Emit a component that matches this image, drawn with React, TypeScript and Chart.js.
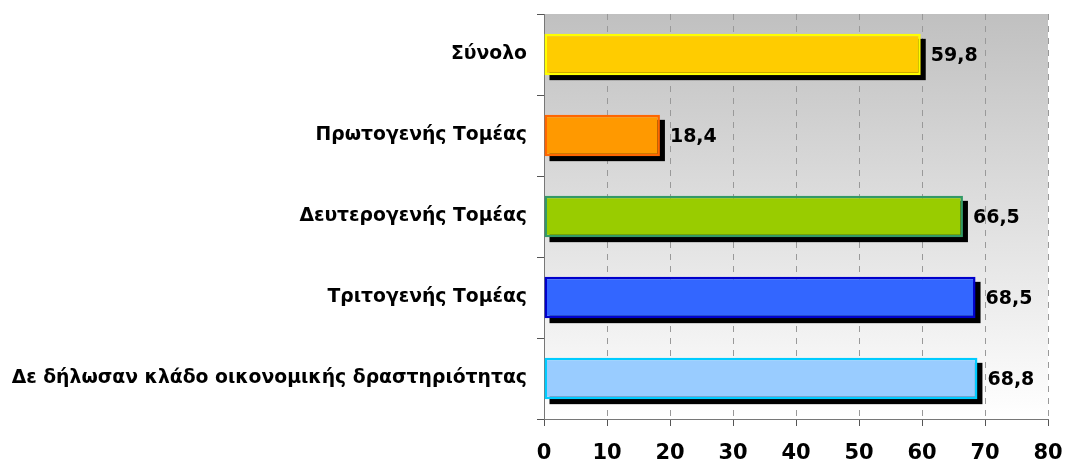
import React, { useEffect, useRef } from "react";
import { Chart, registerables } from "chart.js";

Chart.register(...registerables);

const categories = [
  "Σύνολο",
  "Πρωτογενής Τομέας",
  "Δευτερογενής Τομέας",
  "Τριτογενής Τομέας",
  "Δε δήλωσαν κλάδο οικονομικής δραστηριότητας",
];
const values = [59.8, 18.4, 66.5, 68.5, 68.8];
const valueLabels = ["59,8", "18,4", "66,5", "68,5", "68,8"];
const fillColors = ["#FFCC00", "#FF9900", "#99CC00", "#3366FF", "#99CCFF"];
const borderColors = ["#FFFF00", "#FF6600", "#339966", "#0000CC", "#00CCFF"];
const xMin = 0;
const xMax = 80;
const xStep = 10;

const FONT = "'DejaVu Sans', Verdana, sans-serif";

const bgPlugin = {
  id: "bgGradient",
  beforeDraw(chart: any) {
    const { ctx, chartArea } = chart;
    if (!chartArea) return;
    const g = ctx.createLinearGradient(0, chartArea.top, 0, chartArea.bottom);
    g.addColorStop(0, "#c0c0c0");
    g.addColorStop(1, "#ffffff");
    ctx.save();
    ctx.fillStyle = g;
    ctx.fillRect(chartArea.left, chartArea.top, chartArea.right - chartArea.left, chartArea.bottom - chartArea.top);
    ctx.restore();
  },
};

const shadowPlugin = {
  id: "barShadow",
  beforeDatasetsDraw(chart: any) {
    const { ctx } = chart;
    const meta = chart.getDatasetMeta(0);
    ctx.save();
    ctx.fillStyle = "#000000";
    meta.data.forEach((bar: any) => {
      const h = bar.height;
      ctx.fillRect(bar.base + 5, bar.y - h / 2 + 5, bar.x - bar.base, h);
    });
    ctx.restore();
  },
};

const valueLabelPlugin = {
  id: "valueLabels",
  afterDatasetsDraw(chart: any) {
    const { ctx } = chart;
    const meta = chart.getDatasetMeta(0);
    ctx.save();
    ctx.fillStyle = "#000000";
    ctx.font = `bold 19px ${FONT}`;
    ctx.textAlign = "left";
    ctx.textBaseline = "middle";
    meta.data.forEach((bar: any, i: number) => {
      ctx.fillText(valueLabels[i], bar.x + 10, bar.y + 2);
    });
    ctx.restore();
  },
};

export default function App() {
  const ref = useRef<HTMLCanvasElement | null>(null);

  useEffect(() => {
    document.body.style.margin = "0";
    if (!ref.current) return;
    const chart = new Chart(ref.current, {
      type: "bar",
      data: {
        labels: categories,
        datasets: [
          {
            data: values,
            backgroundColor: fillColors,
            borderColor: borderColors,
            borderWidth: 2.5,
            borderSkipped: false,
            barPercentage: 0.51,
            categoryPercentage: 1,
          },
        ],
      },
      options: {
        indexAxis: "y",
        animation: false,
        responsive: true,
        maintainAspectRatio: false,
        layout: { padding: { top: 14, right: 17, left: 0, bottom: 0 } },
        plugins: {
          legend: { display: false },
          tooltip: { enabled: false },
          title: { display: false },
        },
        scales: {
          x: {
            type: "linear",
            min: xMin,
            max: xMax,
            ticks: {
              stepSize: xStep,
              color: "#000000",
              font: { family: FONT, size: 21, weight: "bold" },
              padding: 15,
            },
            grid: {
              color: "#999999",
              lineWidth: 1,
              drawTicks: true,
              tickLength: 7,
              tickColor: "#555555",
              tickBorderDash: [],
            },
            border: { display: true, color: "#777777", width: 1, dash: [6, 6] },
            afterFit(scale: any) {
              scale.height = 42;
              scale.paddingLeft = 0;
              scale.paddingRight = 0;
            },
          },
          y: {
            type: "category",
            offset: true,
            ticks: {
              color: "#000000",
              font: { family: FONT, size: 18.8, weight: "bold" },
              padding: 10,
            },
            grid: {
              offset: true,
              drawOnChartArea: false,
              drawTicks: true,
              tickLength: 7,
              tickColor: "#555555",
            },
            border: { display: true, color: "#777777", width: 1 },
            afterFit(scale: any) {
              scale.width = 544;
              scale.paddingTop = 0;
              scale.paddingBottom = 0;
            },
          },
        },
      },
      plugins: [bgPlugin, shadowPlugin, valueLabelPlugin],
    } as any);
    return () => chart.destroy();
  }, []);

  return (
    <div style={{ position: "relative", width: "1065px", height: "461px" }}>
      <canvas ref={ref} />
    </div>
  );
}
